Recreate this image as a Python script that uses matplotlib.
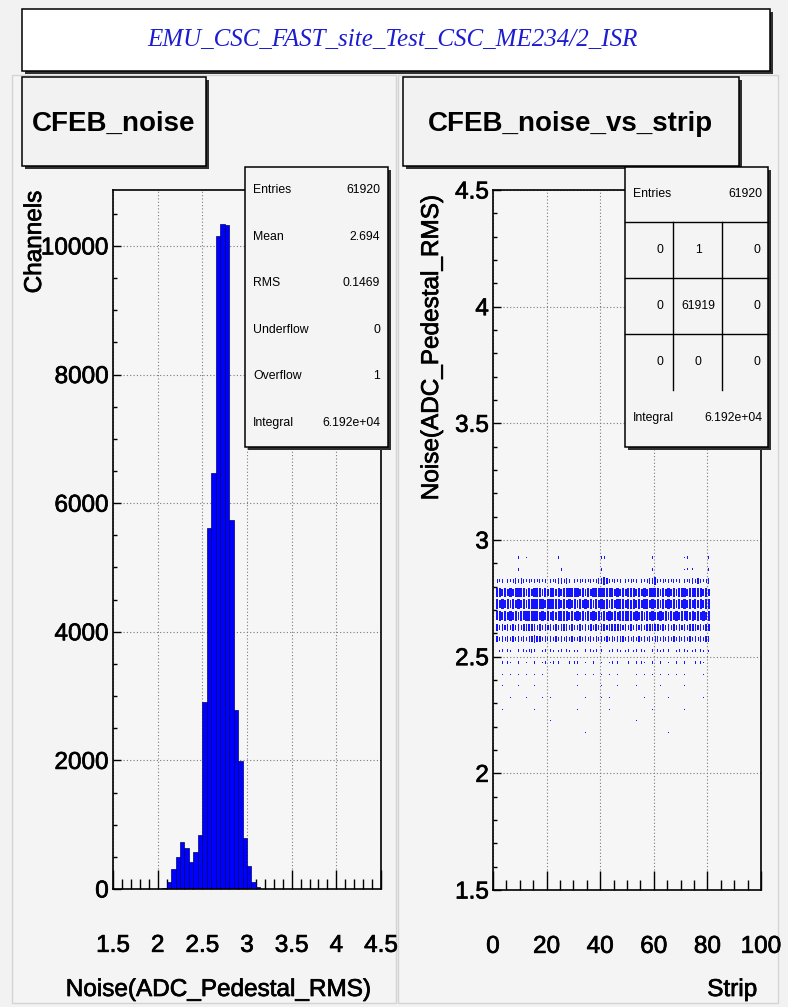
import matplotlib
matplotlib.use('Agg')
import matplotlib.pyplot as plt
import matplotlib.patheffects as pe
from matplotlib.patches import Rectangle
from matplotlib.ticker import MultipleLocator, FormatStrFormatter

# ---- data ----
title = "EMU_CSC_FAST_site_Test_CSC_ME234/2_ISR"

# CFEB_noise histogram (bin width 0.05, only non-empty bins)
noise_lo = [2.05, 2.10, 2.15, 2.20, 2.25, 2.30, 2.35, 2.40, 2.45, 2.50, 2.55,
            2.60, 2.65, 2.70, 2.75, 2.80, 2.85, 2.90, 2.95, 3.00, 3.05, 3.10]
noise_cnt = [20, 110, 310, 500, 735, 635, 425, 570, 835, 2905, 5615,
             6470, 10155, 10340, 10330, 5740, 2784, 1985, 793, 365, 110, 30]

stats_left = [("Entries", "61920"), ("Mean", "2.694"), ("RMS", "0.1469"),
              ("Underflow", "0"), ("Overflow", "1"), ("Integral", "6.192e+04")]
cells_right = [["0", "1", "0"], ["0", "61919", "0"], ["0", "0", "0"]]

# CFEB_noise_vs_strip: box level (0-9) per strip 1..80, one string per noise row
row_noise = [2.925, 2.875, 2.825, 2.775, 2.725, 2.675, 2.625, 2.575, 2.525,
             2.475, 2.425, 2.375, 2.325, 2.275, 2.225, 2.175]
row_levels = [
    "2000000030 2100000000 0003120000 0000000002 3100000000 0000000120 0000000000 1210000002",
    "2000000230 1000000000 0010320000 0000000003 2100000000 0000000230 0000000000 1212120013",
    "4343434545 4343434343 4345645434 3434343456 7643434343 4343434567 4343434343 4345464345",
    "8979797999 9797989797 8979799998 9797979899 9989797979 8979797999 9797979798 9799989797",
    "9797979797 9799999979 9999797979 7979797979 8979799979 8979799797 9797979797 9797979799",
    "8979797979 8999997979 7979999797 9797979797 9797979999 9797979797 7979797979 8979797979",
    "6565656565 6767656565 6565676565 5656565656 6567676565 6565656767 6565656565 6567656567",
    "5454545454 5456765454 5454545454 4545454545 4545456545 4545454545 5454545454 5454545456",
    "3232323232 3234323232 3232323232 2323232323 2323232323 3232323232 3232323232 3232323232",
    "2121212121 2121212121 1212121212 2121212121 1212121212 2121212121 1212121212 2121212121",
    "1111011111 1111101111 0111111011 1111011111 1011111101 1111110111 1101111111 1111011110",
    "1010101010 1010101010 0101101010 1010010101 0101010101 1010100101 0101011010 1010101001",
    "0101010101 0101010101 1010101010 0101010101 1010101010 0101010101 1010101010 0101010100",
    "0010001000 1000100010 0010001000 1000100010 0010001000 1000100010 0010001000 1000100000",
    "0000000000 0010001000 1000100010 0010000000 0000100010 0010001000 0000000000 0000000000",
    "0000000000 0000000010 0000000000 0001000000 0000000000 0000000000 0000100000 0000000000",
]
strips = list(range(1, 81))

# ---- figure ----
W, H = 788, 1007
fig = plt.figure(figsize=(W / 100, H / 100), dpi=100)
fig.patch.set_facecolor('#f2f2f2')
plt.rcParams['font.family'] = ['Liberation Sans', 'DejaVu Sans']
heavy = [pe.withStroke(linewidth=0.5, foreground='black')]


def fx(px):
    return px / W


def fy(py):
    return 1 - py / H


def framed(x0, y0, x1, y1, fc, z=5, sh=3):
    fig.patches.append(Rectangle((fx(x0 + sh), fy(y1 + sh)), (x1 - x0) / W, (y1 - y0) / H,
                                 transform=fig.transFigure, fc='#303030', ec='none', zorder=z))
    fig.patches.append(Rectangle((fx(x0), fy(y1)), (x1 - x0) / W, (y1 - y0) / H,
                                 transform=fig.transFigure, fc=fc, ec='black', lw=1.1, zorder=z + 0.1))


def hline(x0, x1, y, z=9):
    fig.lines.append(plt.Line2D([fx(x0), fx(x1)], [fy(y), fy(y)], transform=fig.transFigure,
                                color='black', lw=1.0, zorder=z))


def vline(x, y0, y1, z=9):
    fig.lines.append(plt.Line2D([fx(x), fx(x)], [fy(y0), fy(y1)], transform=fig.transFigure,
                                color='black', lw=1.0, zorder=z))


# pads
for x0, x1 in [(12, 396), (398, 778)]:
    fig.patches.append(Rectangle((fx(x0), fy(1003)), (x1 - x0) / W, (1003 - 75) / H,
                                 transform=fig.transFigure, fc='#f4f4f4', ec='#d4d4d4',
                                 lw=1.0, zorder=-5))

# main title
framed(22, 9, 770, 71, 'white', z=5)
fig.text(fx(392), fy(40), title, family='Liberation Serif', style='italic',
         color='#1c1cd0', fontsize=18, ha='center', va='center', zorder=7)

# pad titles
framed(22, 77, 206, 166, '#f2f2f2', z=4)
fig.text(fx(114), fy(124), "CFEB_noise", fontsize=20, fontweight='bold', ha='center',
         va='center', zorder=7)
framed(403, 77, 739, 166, '#f2f2f2', z=4)
fig.text(fx(570), fy(124), "CFEB_noise_vs_strip", fontsize=20, fontweight='bold',
         ha='center', va='center', zorder=7)

grid_kw = dict(color='#7a7a7a', linestyle=(0, (1, 2)), linewidth=0.8)


def style_axes(ax):
    ax.set_facecolor('#f6f6f6')
    for s in ax.spines.values():
        s.set_linewidth(1.2)
    ax.tick_params(axis='both', which='both', direction='in', top=False, right=False,
                   labelsize=17.5, width=1.0)
    ax.tick_params(axis='x', which='major', length=14, pad=33)
    ax.tick_params(axis='x', which='minor', length=7)
    ax.tick_params(axis='y', which='major', length=6, pad=3)
    ax.tick_params(axis='y', which='minor', length=3)
    ax.grid(True, which='major', **grid_kw)
    ax.set_axisbelow(True)
    for lab in ax.get_xticklabels() + ax.get_yticklabels():
        lab.set_path_effects(heavy)


# ---- left: histogram ----
axL = fig.add_axes([fx(113), fy(889), 268 / W, 699 / H])
axL.bar(noise_lo, noise_cnt, width=0.05, align='edge', color='#0000ff',
        edgecolor='#00006e', linewidth=0.5)
axL.set_xlim(1.5, 4.5)
axL.set_ylim(0, 10870)
axL.xaxis.set_major_locator(MultipleLocator(0.5))
axL.xaxis.set_minor_locator(MultipleLocator(0.1))
axL.yaxis.set_major_locator(MultipleLocator(2000))
axL.yaxis.set_minor_locator(MultipleLocator(500))
axL.xaxis.set_major_formatter(FormatStrFormatter('%g'))
axL.yaxis.set_major_formatter(FormatStrFormatter('%g'))
style_axes(axL)

fig.text(fx(35), fy(191), "Channels", rotation=90, fontsize=17.5, ha='center', va='top',
         path_effects=heavy)
fig.text(fx(370), fy(990), "Noise(ADC_Pedestal_RMS)", fontsize=17.5, ha='right',
         va='center', path_effects=heavy)

# ---- right: box plot ----
axR = fig.add_axes([fx(493), fy(890), 268 / W, 700 / H])
for yc, lev in zip(row_noise, row_levels):
    digits = [int(c) for c in lev.replace(' ', '')]
    frac = [0.85 * d / 9 for d in digits]
    xs = [s + 0.5 for s, f in zip(strips, frac) if f > 0]
    ws = [f for f in frac if f > 0]
    hs = [0.05 * f for f in frac if f > 0]
    bs = [yc - h / 2 for h in hs]
    axR.bar(xs, hs, width=ws, bottom=bs, color='#1414ff', edgecolor='none', linewidth=0)
axR.set_xlim(0, 100)
axR.set_ylim(1.5, 4.5)
axR.xaxis.set_major_locator(MultipleLocator(20))
axR.xaxis.set_minor_locator(MultipleLocator(5))
axR.yaxis.set_major_locator(MultipleLocator(0.5))
axR.yaxis.set_minor_locator(MultipleLocator(0.1))
axR.xaxis.set_major_formatter(FormatStrFormatter('%g'))
axR.yaxis.set_major_formatter(FormatStrFormatter('%g'))
style_axes(axR)

fig.text(fx(432), fy(196), "Noise(ADC_Pedestal_RMS)", rotation=90, fontsize=17.5,
         ha='center', va='top', path_effects=heavy)
fig.text(fx(757), fy(990), "Strip", fontsize=17.5, ha='right', va='center',
         path_effects=heavy)

# ---- stats boxes ----
fs = 8.8
framed(245, 167, 388, 447, '#f4f4f4', z=8)
for i, (lab, val) in enumerate(stats_left):
    y = 190 + i * 46.6
    fig.text(fx(253), fy(y), lab, fontsize=fs, ha='left', va='center', zorder=9)
    fig.text(fx(380), fy(y), val, fontsize=fs, ha='right', va='center', zorder=9)

framed(625, 167, 768, 447, '#f4f4f4', z=8)
fig.text(fx(633), fy(194), "Entries", fontsize=fs, ha='left', va='center', zorder=9)
fig.text(fx(762), fy(194), "61920", fontsize=fs, ha='right', va='center', zorder=9)
for yl in (222, 278, 334):
    hline(625, 768, yl)
for xl in (673, 722):
    vline(xl, 222, 390)
for r, row in enumerate(cells_right):
    y = 250 + r * 56
    for xc, txt in zip((660, 698, 757), row):
        fig.text(fx(xc), fy(y), txt, fontsize=fs, ha='center', va='center', zorder=9)
fig.text(fx(633), fy(418), "Integral", fontsize=fs, ha='left', va='center', zorder=9)
fig.text(fx(762), fy(418), "6.192e+04", fontsize=fs, ha='right', va='center', zorder=9)

fig.savefig('out.png', dpi=100, facecolor=fig.get_facecolor())
